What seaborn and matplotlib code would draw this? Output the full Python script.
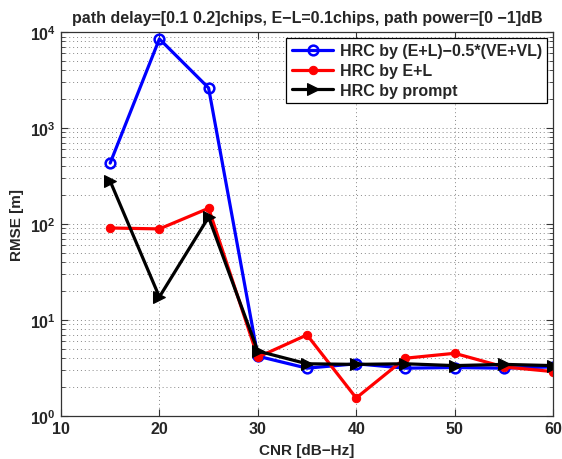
import numpy as np
import pandas as pd
import matplotlib
matplotlib.use("Agg")
import matplotlib.pyplot as plt
import seaborn as sns
from matplotlib.ticker import LogLocator, FixedLocator, NullFormatter

cnr = [15, 20, 25, 30, 35, 40, 45, 50, 55, 60]
rmse_vevl = [432, 8500, 2620, 4.2, 3.15, 3.5, 3.15, 3.2, 3.15, 3.25]
rmse_el = [91, 89, 146, 4.1, 7.0, 1.54, 4.0, 4.5, 3.25, 2.9]
rmse_prompt = [280, 17.4, 118, 4.75, 3.5, 3.45, 3.5, 3.35, 3.45, 3.35]
labels = ["HRC by (E+L)\u22120.5*(VE+VL)", "HRC by E+L", "HRC by prompt"]
title = "path delay=[0.1 0.2]chips, E\u2212L=0.1chips, path power=[0 \u22121]dB"
xticks = [10, 20, 30, 40, 50, 60]

sns.set_style("white")
plt.rcParams['font.family'] = ['Liberation Sans', 'DejaVu Sans']
plt.rcParams['font.weight'] = 'bold'

fig = plt.figure(figsize=(5.62, 4.60), dpi=100)
ax = fig.add_axes([0.1085, 0.0935, 0.8755, 0.8345])

styles = [
    dict(color="#0000ff", marker="o", markersize=7, markerfacecolor="none",
         markeredgecolor="#0000ff", markeredgewidth=1.8, linewidth=2.3),
    dict(color="#ff0000", marker="o", markersize=6, markerfacecolor="#ff0000",
         markeredgecolor="#ff0000", linewidth=2.3),
    dict(color="black", marker=">", markersize=9, markerfacecolor="black",
         markeredgecolor="black", linewidth=2.3),
]
for vals, lab, st in zip([rmse_vevl, rmse_el, rmse_prompt], labels, styles):
    df = pd.DataFrame({"CNR": cnr, "RMSE": vals})
    sns.lineplot(data=df, x="CNR", y="RMSE", ax=ax, label=lab, **st)

ax.set_yscale("log")
ax.set_xlim(10, 60)
ax.set_ylim(1, 1e4)
ax.xaxis.set_major_locator(FixedLocator(xticks))
ax.yaxis.set_major_locator(LogLocator(base=10, numticks=10))
ax.yaxis.set_minor_locator(LogLocator(base=10, subs=np.arange(2, 10), numticks=10))
ax.yaxis.set_minor_formatter(NullFormatter())

gridkw = dict(linestyle=(0, (1, 3)), color="#888888", linewidth=0.7)
ax.grid(True, which="major", axis="both", **gridkw)
ax.grid(True, which="minor", axis="y", **gridkw)
ax.set_axisbelow(True)

for s in ax.spines.values():
    s.set_color("#333333")
    s.set_linewidth(0.9)
ax.tick_params(which="both", direction="in", top=True, right=True,
               left=True, bottom=True, labelsize=11.5, color="#333333")
ax.tick_params(which="major", length=5)
ax.tick_params(which="minor", length=3)
for t in ax.get_xticklabels() + ax.get_yticklabels():
    t.set_fontweight("bold")

ax.set_xlabel("CNR [dB\u2212Hz]", fontsize=11, fontweight="bold", labelpad=5)
ax.set_ylabel("RMSE [m]", fontsize=11, fontweight="bold", labelpad=4)
ax.set_title(title, fontsize=11.5, fontweight="bold", pad=7)

leg = ax.legend(loc="upper right", fontsize=11.5, frameon=True, fancybox=False,
                edgecolor="black", framealpha=1, borderpad=0.35, labelspacing=0.3,
                handlelength=2.6, handletextpad=0.4, borderaxespad=0.35, numpoints=1)
leg.get_frame().set_linewidth(0.9)
for t in leg.get_texts():
    t.set_fontweight("bold")

fig.savefig("out.png", dpi=100)
